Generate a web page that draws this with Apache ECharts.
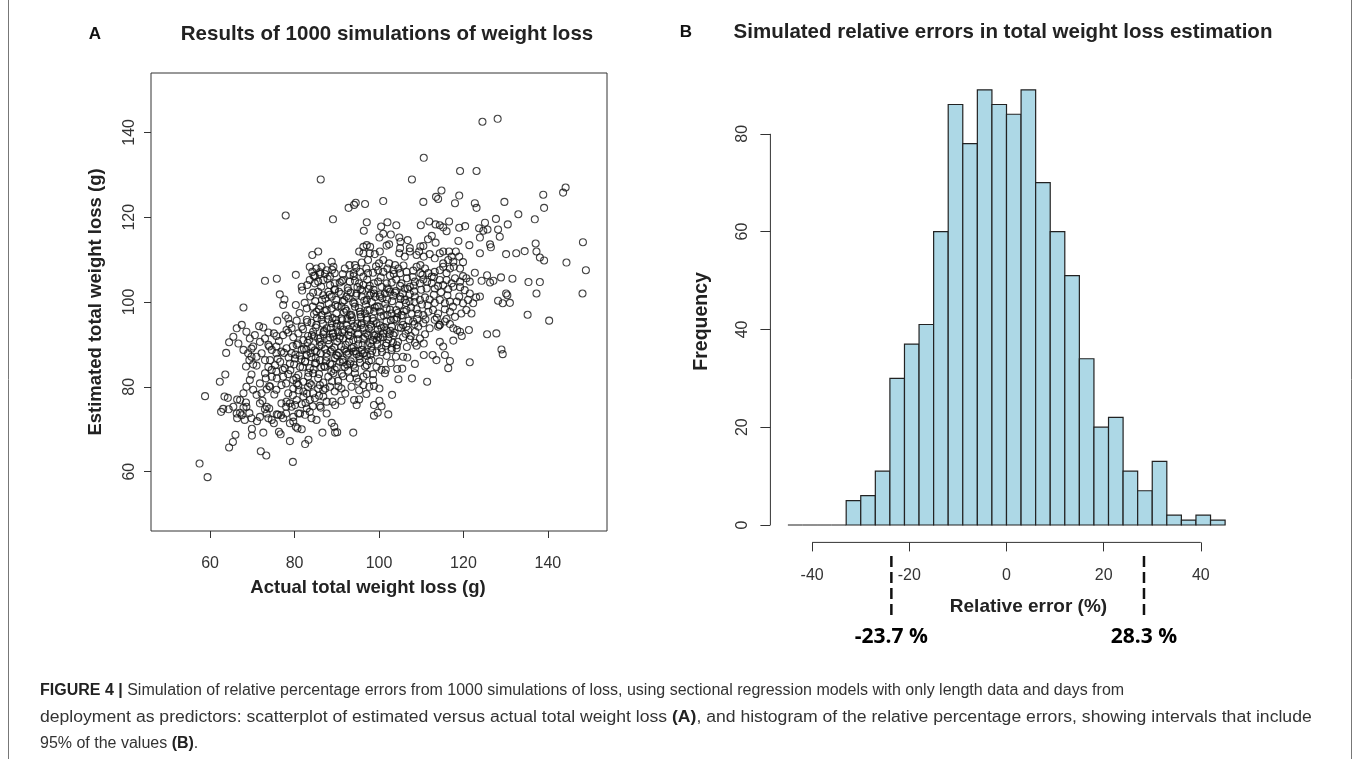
<!DOCTYPE html>
<html><head><meta charset="utf-8">
<script src="https://cdn.jsdelivr.net/npm/echarts@6/dist/echarts.min.js"></script>
<style>html,body{margin:0;padding:0;background:#fff}#c{width:1360px;height:759px}</style>
</head><body><div id="c"></div><script>
// ---------- Panel A data: (actual, estimated) total weight loss, g ----------
const simUpper = [[124.5,142.5],[128.1,143.2],[110.6,134.0],[86.2,128.9],[107.8,128.9],[119.2,130.9],[123.1,130.9],[77.9,120.4],[89.1,119.5],[92.8,122.2],[94.1,122.9],[94.5,123.4],[96.7,123.1],[101.0,123.8],[110.5,123.6],[113.5,124.8],[114.0,124.3],[114.8,126.3],[118.0,123.3],[119.0,125.1],[122.7,123.3],[123.1,122.2],[129.7,123.6],[133.0,120.7],[136.9,119.5],[138.9,125.3],[139.1,122.2],[143.6,125.8],[144.2,127.0],[148.3,114.1],[97.1,118.8],[96.4,116.8],[100.5,117.8],[102.0,118.8],[104.1,118.1],[100.1,115.2],[101.0,116.1],[102.8,115.9],[101.8,113.3],[102.4,113.6],[104.8,115.2],[105.1,114.2],[106.8,114.6],[105.0,112.7],[107.3,112.7],[109.9,118.1],[111.9,119.0],[113.4,118.3],[114.4,118.1],[115.2,117.6],[116.0,116.7],[116.6,119.0],[112.5,115.6],[111.6,114.8],[113.4,114.0],[110.5,113.2],[118.8,114.4],[119.0,117.5],[120.4,117.9],[121.4,113.4],[123.7,117.4],[124.7,116.8],[125.1,118.7],[125.7,117.1],[123.9,115.2],[127.7,119.6],[128.2,117.1],[128.6,115.4],[130.5,118.3],[137.1,113.8],[126.3,113.6],[126.5,112.9],[96.3,113.0],[97.1,113.4],[97.9,113.0],[109.8,113.1]];
const simSparse = [[144.4,109.3],[149.0,107.5],[148.2,102.0],[137.3,111.9],[138.1,110.5],[139.1,109.8],[134.5,112.0],[132.5,111.5],[130.1,111.3],[135.4,104.7],[138.1,104.7],[137.3,102.0],[135.2,97.0],[140.3,95.6],[131.6,105.5],[128.9,105.8],[125.6,106.3],[127.1,105.0],[126.3,104.6],[124.3,105.0],[130.1,102.0],[130.4,101.6],[128.2,100.3],[129.3,99.7],[131.0,99.8],[127.8,92.6],[125.6,92.4],[129.0,88.8],[129.3,87.7],[121.5,85.8],[123.9,101.3],[123.0,101.1],[122.7,106.9],[123.9,111.5],[121.3,93.4],[119.6,92.0],[117.6,90.9],[118.5,93.4],[119.2,93.0],[116.4,84.4],[116.8,86.1],[115.6,87.5],[115.2,89.5],[114.4,90.6],[113.6,86.3],[112.7,87.5],[110.6,87.5],[111.4,81.2],[107.8,82.0],[104.6,81.8],[108.5,85.4],[105.5,84.3],[104.3,84.2],[103.1,78.1],[102.2,73.5],[100.1,76.7],[100.6,75.4],[98.8,75.7],[99.7,73.9],[98.8,73.2],[100.1,79.6],[98.8,80.2],[93.9,69.2],[89.6,69.2],[90.1,69.3],[89.4,70.6],[88.8,71.5],[86.6,69.2],[83.3,67.5],[82.5,66.5],[79.6,62.3],[78.9,67.2],[76.3,69.4],[76.7,68.8],[72.6,69.2],[72.0,64.8],[73.3,63.8],[69.9,70.1],[69.9,68.5],[66.0,68.7],[65.4,67.0],[64.5,65.7],[57.5,61.9],[59.4,58.7],[58.8,77.8],[62.3,81.2],[63.6,82.9],[63.8,88.0],[64.5,90.5],[67.9,98.7],[62.6,74.1],[63.1,74.8],[64.4,74.7],[63.4,77.7],[64.2,77.4],[66.4,77.0],[66.4,72.6],[67.1,73.9],[67.9,75.1],[68.5,76.3],[69.3,73.8],[71.1,71.9],[69.8,89.0],[69.8,87.1],[69.3,86.3],[68.5,84.8],[70.2,85.3],[71.0,85.0],[69.8,82.9],[73.0,105.0],[75.8,105.5],[80.3,106.4],[81.7,103.6],[81.8,102.7],[76.5,101.8],[77.6,100.6],[77.3,99.3],[80.3,99.3],[75.9,95.6],[77.9,96.8],[78.5,96.1],[71.6,94.3],[72.6,94.0],[73.8,92.8],[75.1,92.6],[75.7,92.0],[74.0,89.5],[73.2,82.0],[74.0,80.2],[75.8,82.0],[75.2,78.2],[73.4,79.4],[71.8,80.8],[72.4,76.7],[73.0,74.7],[74.0,74.9],[75.8,73.5],[76.8,73.3],[78.0,73.7],[75.1,71.4],[73.8,72.6],[78.9,71.4],[79.7,71.8],[80.3,70.6],[80.7,70.2],[81.7,70.0],[78.0,75.3],[78.9,76.1],[80.1,75.7],[80.9,73.7],[84.0,72.6],[86.2,75.1],[87.6,73.7],[86.8,77.7],[89.0,76.5],[91.1,76.7],[89.6,75.7],[94.1,76.9],[94.7,75.7],[95.3,77.0],[96.3,80.4],[97.7,80.0],[93.1,82.0],[94.7,82.0],[96.3,82.4],[98.6,83.0],[101.4,83.2],[101.6,84.0],[104.0,87.1],[104.2,89.8],[105.7,87.1],[106.7,86.9],[109.7,91.4],[110.6,90.2],[108.9,89.7],[114.0,94.2],[114.3,94.6],[80.5,80.8],[83.6,80.8],[84.0,80.4],[86.0,80.4],[82.9,78.4],[82.1,77.7]];
const simCoreTop = [[84.2,111.1],[85.6,111.9],[95.3,111.9],[96.3,111.5],[97.8,111.5],[99.0,111.3],[100.2,111.9],[104.8,111.5],[106.1,110.7],[107.3,111.9],[108.9,111.1],[109.5,111.9],[110.6,110.7],[112.0,111.3],[113.2,110.3],[114.4,111.5],[115.2,111.9],[116.6,111.9],[117.2,110.7],[118.2,111.9],[119.0,110.7],[119.9,109.4],[117.6,109.5],[116.4,109.9],[115.2,109.1],[101.0,109.9],[100.0,109.1],[102.4,109.1],[103.8,108.7],[97.4,109.9],[95.9,109.3],[94.3,108.7],[93.0,108.7],[88.8,109.5],[89.2,108.3],[83.6,108.3],[85.2,107.9],[86.4,108.3],[87.6,107.5],
[84.2,107.1],[84.8,106.1],[86.0,106.6],[87.2,106.6],[88.4,106.0],[89.5,106.8],[91.4,106.6],[93.1,106.4],[94.0,106.8],[95.5,107.1],[96.3,106.0],[97.4,106.8],[98.6,106.9],[99.8,107.5],[101.0,107.1],[102.0,107.9],[103.4,107.5],[104.6,107.9],[105.0,106.8],[106.5,107.1],[108.1,107.4],[108.9,108.3],[109.8,108.7],[110.9,107.9],[111.7,106.8],[112.5,106.0],[113.2,107.1],[114.4,107.5],[115.2,108.3],[116.0,106.8],[116.8,107.9],[117.7,108.3],[119.2,107.9],[119.9,106.1],[120.7,105.6],[121.5,104.8],[119.2,104.8],[118.0,105.6],[117.2,104.4],[116.0,105.2],[114.4,105.2],
[83.6,105.2],[84.8,104.4],[85.6,104.8],[86.8,105.2],[88.4,104.0],[89.5,104.4],[90.7,104.6],[91.5,105.2],[93.1,104.8],[94.3,105.0],[95.3,104.4],[96.3,104.0],[97.8,103.8],[98.8,104.4],[99.8,104.8],[100.6,103.6],[101.8,104.4],[103.0,104.6],[104.1,105.3],[105.3,104.4],[106.1,103.2],[107.3,103.6],[108.5,104.8],[109.7,104.4],[110.5,105.3],[111.3,103.2],[112.5,104.4],[113.2,103.2],[114.0,103.8],[115.2,104.0],[116.4,103.0],[117.6,103.6],[119.2,103.5],[120.3,102.8],[121.5,102.0],
[84.4,102.2],[85.6,102.4],[86.8,101.6],[88.0,102.4],[88.8,101.3],[89.9,100.5],[91.4,100.1],[92.3,101.3],[93.3,102.2],[94.7,102.0],[95.9,101.3],[97.1,100.5],[97.8,101.6],[98.8,102.0],[100.2,101.3],[101.4,102.0],[102.6,102.4],[103.8,102.2],[105.0,101.3],[106.1,100.5],[107.3,101.9],[108.5,101.3],[109.7,100.5],[110.9,101.1],[112.0,100.6],[113.2,99.8],[114.4,100.5],[115.6,99.7],[116.8,100.1],[118.4,100.1],[119.9,99.7],[121.1,100.5],[122.3,99.7]];
const simCoreMid = [[82.9,98.5],[84.3,98.9],[85.2,97.7],[86.4,96.9],[87.6,98.1],[88.8,98.5],[89.9,97.3],[91.1,98.9],[92.3,97.9],[93.1,96.9],[94.3,98.9],[95.5,97.7],[96.7,97.3],[97.8,98.1],[99.0,98.7],[100.2,97.7],[101.8,98.5],[103.0,97.3],[104.1,98.1],[105.3,96.9],[106.5,98.1],[107.7,97.3],[108.9,98.3],[110.5,96.9],[111.7,97.7],[112.8,98.1],[114.0,97.3],[115.6,98.3],[116.8,97.7],[118.0,96.5],[119.5,97.3],[120.7,98.1],[121.9,97.3],
[78.1,93.4],[79.3,93.8],[80.5,95.6],[81.7,94.2],[82.9,95.8],[84.0,95.1],[85.2,94.6],[86.4,95.8],[87.6,93.8],[88.8,95.0],[89.9,94.2],[91.1,96.1],[92.3,94.6],[93.5,95.6],[94.7,93.8],[95.9,95.0],[97.1,95.8],[98.2,94.2],[99.4,95.0],[100.6,93.8],[101.8,95.4],[103.0,94.2],[104.1,95.8],[105.7,94.6],[106.9,93.4],[108.1,95.4],[109.3,94.2],[110.5,95.0],[112.0,93.8],[113.2,95.8],[114.4,94.6],[115.6,95.4],[116.8,94.8],[117.6,93.8],
[77.3,92.2],[78.5,92.8],[79.7,91.7],[80.9,92.6],[82.1,91.0],[83.2,92.0],[84.4,93.0],[85.6,91.4],[86.8,92.4],[88.0,91.0],[89.2,91.8],[90.3,93.0],[91.5,91.4],[92.7,92.2],[93.9,91.0],[95.1,92.6],[96.3,91.4],[97.4,92.2],[98.6,91.0],[99.8,91.8],[101.0,92.6],[102.2,91.2],[103.4,92.2],[104.5,90.6],[105.7,91.7],[107.3,91.2],[108.5,90.4],
[75.7,89.5],[76.9,88.3],[78.1,89.1],[79.3,87.9],[80.5,89.9],[81.7,88.7],[82.9,87.5],[84.0,89.3],[85.2,88.3],[86.4,89.9],[87.6,87.9],[88.8,88.8],[89.9,87.5],[91.1,89.5],[92.3,88.3],[93.5,89.1],[94.7,87.7],[95.9,88.7],[97.1,87.3],[98.2,89.5],[99.4,88.1],[100.6,89.1],[101.8,87.3],[103.0,88.7]];
const simCoreLow = [[74.2,86.3],[75.4,85.1],[76.6,85.9],[77.7,84.4],[78.9,85.5],[80.1,86.7],[81.3,84.7],[82.5,85.9],[83.6,84.4],[84.8,85.5],[86.0,86.3],[87.2,84.7],[88.4,85.5],[89.5,84.1],[90.7,85.9],[91.9,84.7],[93.1,85.5],[94.3,84.4],[95.5,85.7],[97.1,85.1],[98.2,86.3],[99.4,84.7],[100.6,84.0],
[73.0,83.2],[74.6,82.4],[75.7,83.6],[77.3,82.4],[78.5,83.0],[79.7,81.6],[80.9,82.8],[82.1,81.2],[83.2,82.4],[84.4,83.2],[85.6,82.0],[86.8,81.0],[88.0,82.4],[89.2,83.2],[90.3,81.4],[91.5,82.5],[92.7,83.8],[94.3,83.2],[95.1,81.2],[97.1,83.0],
[74.2,80.0],[75.7,79.3],[76.9,80.4],[78.5,78.5],[79.7,79.6],[80.9,80.4],[82.1,78.9],[83.2,80.0],[84.4,78.5],[85.6,79.6],[86.8,79.2],[88.4,80.0],[89.5,78.9],[91.1,79.6],
[71.8,76.1],[73.4,75.3],[76.9,76.1],[78.1,76.5],[79.3,75.3],[80.5,76.9],[81.7,75.9],[82.9,74.9],[83.6,76.9],[84.8,77.3],[86.0,75.5],[87.6,76.5],
[71.8,72.9],[73.4,73.7],[74.6,72.2],[76.1,73.4],[77.3,72.6],[79.7,72.9],[81.3,73.7],[82.5,73.4],[83.6,74.1],[85.2,72.2],
[66.3,93.8],[67.5,94.6],[68.6,93.0],[69.4,91.4],[70.6,92.2],[71.8,90.6],[73.0,91.4],[73.8,89.9],[74.6,88.7],[75.7,87.9],[65.5,91.8],[66.7,90.2],[67.9,88.7],[69.0,87.9],[70.2,89.5],[71.0,87.1],[72.2,87.9],[73.0,86.3],[73.8,84.7],[74.6,84.0],[69.4,81.6],[68.6,80.0],[70.2,79.3],[71.0,78.1],[72.2,78.5],[67.9,78.5],[67.1,76.9],[68.6,75.3],[65.5,75.3],[66.3,73.7],[67.5,73.3],[69.8,72.6],[68.2,72.2]];
const simCoreDense = [[84.9,100.2],[86.1,99.1],[87.3,100.8],[88.1,99.6],[89.4,102.9],[90.2,99.0],[91.0,101.9],[91.8,100.4],[92.6,103.3],[93.9,99.9],[94.6,101.5],[95.2,98.6],[96.0,102.7],[96.9,99.4],[97.5,103.1],[98.3,100.0],[99.1,101.2],[99.9,98.9],[100.8,100.9],[101.5,99.6],[102.3,103.0],[103.1,100.2],[104.0,102.6],[104.8,99.3],[105.6,102.0],[106.4,99.8],[107.2,100.1],
[85.3,96.2],[86.7,94.9],[87.9,96.8],[88.6,93.9],[89.8,95.8],[90.9,94.4],[91.7,97.6],[92.9,93.6],[93.6,96.4],[94.9,94.9],[95.6,97.1],[96.4,93.9],[97.2,96.3],[98.0,94.7],[98.9,97.8],[99.7,93.5],[100.4,96.6],[101.2,94.1],[102.0,97.0],[102.7,93.2],[103.6,95.9],[104.4,97.4],[105.2,93.9],
[83.1,90.4],[84.6,91.9],[85.9,89.6],[86.9,92.9],[88.2,90.1],[89.0,92.5],[90.1,90.7],[91.3,92.8],[92.1,89.9],[93.2,92.0],[94.0,89.4],[95.0,91.2],[96.1,89.8],[97.0,92.6],[97.9,90.3],[98.8,92.1],[99.6,90.0],[100.3,91.6],[101.6,89.7],[102.5,92.4],[103.3,90.4],
[80.2,87.6],[81.6,86.5],[82.8,88.8],[84.0,87.0],[85.1,85.6],[86.2,87.9],[87.4,86.1],[88.5,88.3],[89.6,86.8],[90.5,88.0],[91.4,86.4],[92.4,87.6],[93.3,86.0],[94.5,88.4],[95.4,86.6],[96.6,88.0],[97.6,86.1],
[79.0,83.9],[80.4,82.1],[81.9,84.6],[83.3,83.3],[84.5,84.1],[85.8,83.0],[87.0,84.9],[88.7,83.6],[90.0,84.6],[91.2,83.1],[92.5,85.2],
[86.0,107.0],[88.9,107.6],[91.9,107.9],[94.6,108.0],[97.0,107.9],[99.3,108.4],[102.6,106.2],[105.8,108.6],[108.0,105.9],[110.3,106.4],
[108.3,102.5],[110.0,102.9],[111.5,99.2],[113.0,101.7],[114.7,102.3],[116.2,101.6],[117.5,98.9],[119.0,101.3],[111.0,95.9],[113.7,96.3],[116.0,96.0],[107.0,95.6],[109.0,96.0],[106.3,92.5],[108.6,93.0],[110.9,92.4],[104.2,89.1],[106.6,89.4],[100.1,86.0],[102.8,85.6]];
const simCoreExtra = [[81.2,97.4],[82.4,99.8],[83.7,101.3],[84.6,97.1],[85.8,98.3],[86.5,100.5],[87.1,97.9],[88.3,101.7],[89.0,96.2],[89.7,99.3],[90.5,102.4],[91.3,95.7],[92.0,98.4],[92.8,100.9],[93.4,97.0],[94.2,99.6],[94.9,103.5],[95.7,96.5],[96.5,100.3],[97.3,98.1],[98.1,102.0],[98.7,95.5],[99.5,99.0],[100.3,101.8],[101.1,96.8],[101.9,100.6],[102.6,98.2],[103.4,101.5],[104.3,96.3],[105.1,100.7],[105.9,97.8],[106.8,103.1],[107.6,98.7],[108.4,100.0],[109.3,97.2],[110.2,99.4],
[82.0,93.6],[83.0,95.3],[84.1,92.2],[85.0,94.0],[86.1,91.5],[87.0,93.2],[88.0,95.9],[89.1,92.7],[90.0,94.9],[90.8,91.9],[91.6,93.5],[92.5,96.0],[93.3,92.9],[94.1,94.3],[95.0,92.4],[95.8,94.6],[96.7,91.8],[97.6,93.7],[98.5,96.1],[99.3,92.3],[100.2,94.5],[101.0,91.7],[101.8,93.3],[102.8,95.7],[103.7,92.7],[104.7,94.0],[105.6,96.8],[106.5,94.2],[107.5,92.0],[108.4,94.8],
[80.8,90.2],[82.2,89.0],[83.5,91.1],[84.8,88.6],[86.0,90.6],[87.2,88.9],[88.4,91.6],[89.4,89.3],[90.6,91.4],[91.8,88.8],[92.9,90.6],[94.0,88.3],[95.1,90.0],[96.2,87.8],[97.3,89.8],[98.4,88.5],[99.5,91.1],[100.7,88.2],[101.8,90.3],[103.0,89.2],
[78.6,86.9],[79.9,85.3],[81.2,87.4],[82.5,86.0],[83.8,88.0],[85.0,86.8],[86.3,84.6],[87.6,87.1],[88.9,85.3],[90.2,87.3],[91.5,85.8],[92.8,87.9],[94.0,85.2],[95.3,87.2],[96.7,84.8],[98.0,87.6],
[83.0,104.0],[84.5,106.2],[86.3,103.6],[87.8,105.5],[89.6,103.0],[91.2,104.9],[92.7,102.7],[94.0,106.1],[95.6,103.0],[97.2,105.3],[98.7,102.9],[100.4,105.8],[101.9,103.2],[103.5,106.6],[105.0,103.8],[106.6,105.6],[108.2,103.9],[109.8,106.8],[111.4,104.8],[113.0,105.9],
[76.3,90.8],[77.5,88.0],[78.8,94.8],[79.6,89.6],[76.0,86.6],[77.2,84.0],[78.0,80.8],[79.6,78.0],[81.0,79.2],[82.6,76.2],[84.3,75.4],[85.8,77.9],[87.3,79.6],[88.9,81.3],[90.4,80.1],[92.0,78.4],[93.5,80.0],[95.3,79.2],[97.0,78.3],[98.6,81.6]];
const ticksA = [60, 80, 100, 120, 140];

// ---------- Panel B data: histogram of relative error (%) ----------
const binEdges = [-45,-42,-39,-36,-33,-30,-27,-24,-21,-18,-15,-12,-9,-6,-3,0,3,6,9,12,15,18,21,24,27,30,33,36,39,42,45];
const binCounts = [0,0,0,0,5,6,11,30,37,41,60,86,78,89,86,84,89,70,60,51,34,20,22,11,7,13,2,1,2,1];
const ticksBx = [-40, -20, 0, 20, 40];
const ticksBy = [0, 20, 40, 60, 80];
const cutoffs = [-23.7, 28.3];

const FONT = 'Liberation Sans, Arial, Helvetica, sans-serif';
const allPts = simUpper.concat(simSparse, simCoreTop, simCoreMid, simCoreLow, simCoreDense, simCoreExtra);
const histData = binCounts.map((c, i) => [binEdges[i], binEdges[i + 1], c]);
const xLo = binEdges[0], xHi = binEdges[binEdges.length - 1];
const xPad = (xHi - xLo) * 0.04;
const yMaxC = Math.max.apply(null, binCounts);
const yPad = yMaxC * 0.04;

const chart = echarts.init(document.getElementById('c'), null, {renderer: 'canvas'});
const axisTxt = {color: '#333', fontSize: 16, fontFamily: FONT};
const nameTxt = {color: '#222', fontWeight: 'bold', fontFamily: FONT};
const capRich = {b: {fontWeight: 'bold', fontSize: 16, fontFamily: FONT, fill: '#222'}};

chart.setOption({
  animation: false,
  backgroundColor: '#fff',
  grid: [
    {left: 151, top: 73, width: 456, height: 458, show: true, borderColor: '#333', borderWidth: 1, backgroundColor: 'transparent'},
    {left: 770.4, top: 72.4, width: 472.2, height: 470},
    {left: 770.4, top: 551, width: 472.2, height: 64}
  ],
  xAxis: [
    {gridIndex: 0, type: 'value', min: 46, max: 154, splitLine: {show: false}, axisLine: {show: false, onZero: false},
     axisTick: {customValues: ticksA, length: 7, lineStyle: {color: '#333'}},
     axisLabel: Object.assign({customValues: ticksA, margin: 25}, axisTxt),
     name: 'Actual total weight loss (g)', nameLocation: 'middle', nameGap: 47,
     nameTextStyle: Object.assign({fontSize: 18.5, padding: [0, 22, 0, 0]}, nameTxt)},
    {gridIndex: 1, type: 'value', min: xLo - xPad, max: xHi + xPad, splitLine: {show: false}, axisLine: {show: false, onZero: false},
     axisTick: {customValues: ticksBx, length: 9, lineStyle: {color: '#333'}},
     axisLabel: Object.assign({customValues: ticksBx, margin: 25}, axisTxt),
     name: 'Relative error (%)', nameLocation: 'middle', nameGap: 55,
     nameTextStyle: Object.assign({fontSize: 19, padding: [0, 0, 0, 44]}, nameTxt)},
    {gridIndex: 2, type: 'value', min: xLo - xPad, max: xHi + xPad, show: false}
  ],
  yAxis: [
    {gridIndex: 0, type: 'value', min: 46, max: 154, splitLine: {show: false}, axisLine: {show: false, onZero: false},
     axisTick: {customValues: ticksA, length: 7, lineStyle: {color: '#333'}},
     axisLabel: Object.assign({customValues: ticksA, margin: 13, rotate: 90}, axisTxt),
     name: 'Estimated total weight loss (g)', nameLocation: 'middle', nameGap: 46,
     nameTextStyle: Object.assign({fontSize: 18.5}, nameTxt)},
    {gridIndex: 1, type: 'value', min: -yPad, max: yMaxC + yPad, splitLine: {show: false}, axisLine: {show: false, onZero: false},
     axisTick: {customValues: ticksBy, length: 10, lineStyle: {color: '#333'}},
     axisLabel: Object.assign({customValues: ticksBy, margin: 20, rotate: 90}, axisTxt),
     name: 'Frequency', nameLocation: 'middle', nameGap: 59,
     nameTextStyle: Object.assign({fontSize: 19.5, padding: [0, 28, 0, 0]}, nameTxt)},
    {gridIndex: 2, type: 'value', min: 0, max: 1, show: false}
  ],
  series: [
    {type: 'scatter', xAxisIndex: 0, yAxisIndex: 0, data: allPts, symbol: 'circle', symbolSize: 7,
     itemStyle: {color: 'rgba(0,0,0,0)', borderColor: '#141414', borderWidth: 1.1}, silent: true},
    {type: 'custom', xAxisIndex: 1, yAxisIndex: 1, data: histData, encode: {x: [0, 1], y: 2},
     renderItem: function (params, api) {
       const p0 = api.coord([api.value(0), 0]);
       const p1 = api.coord([api.value(1), api.value(2)]);
       return {type: 'rect', shape: {x: p0[0], y: p1[1], width: p1[0] - p0[0], height: p0[1] - p1[1]},
               style: {fill: '#ADD8E6', stroke: '#222', lineWidth: 1.2}};
     }, silent: true},
    // R-style axis lines spanning the tick range only
    {type: 'line', xAxisIndex: 1, yAxisIndex: 1, clip: false, symbol: 'none', silent: true,
     data: [[ticksBx[0], -yPad], [ticksBx[ticksBx.length - 1], -yPad]], lineStyle: {color: '#333', width: 1}},
    {type: 'line', xAxisIndex: 1, yAxisIndex: 1, clip: false, symbol: 'none', silent: true,
     data: [[xLo - xPad, ticksBy[0]], [xLo - xPad, ticksBy[ticksBy.length - 1]]], lineStyle: {color: '#333', width: 1}}
  ].concat(cutoffs.map(v => ({
    type: 'line', xAxisIndex: 2, yAxisIndex: 2, clip: false, symbol: 'none', silent: true,
    data: [[v, 0], [v, 1]], lineStyle: {color: '#111', width: 2.5, type: [11, 5]}
  }))).concat([{
    type: 'scatter', xAxisIndex: 2, yAxisIndex: 2, clip: false, silent: true, symbolSize: 1,
    itemStyle: {color: 'rgba(0,0,0,0)', opacity: 1},
    data: cutoffs.map(v => [v, 0]),
    label: {show: true, position: 'bottom', distance: 11, formatter: p => p.value[0].toFixed(1) + ' %',
            fontFamily: 'Open Sans, Liberation Sans, sans-serif', fontWeight: 'bold', fontSize: 21, color: '#000', opacity: 1}
  }]),
  graphic: [
    {type: 'line', shape: {x1: 8.5, y1: 0, x2: 8.5, y2: 759}, style: {stroke: '#777', lineWidth: 1}},
    {type: 'line', shape: {x1: 1351.5, y1: 0, x2: 1351.5, y2: 759}, style: {stroke: '#777', lineWidth: 1}},
    {type: 'text', x: 95, y: 34, style: {text: 'A', font: 'bold 17px ' + FONT, fill: '#111', align: 'center', verticalAlign: 'middle'}},
    {type: 'text', x: 387, y: 34, style: {text: 'Results of 1000 simulations of weight loss', font: 'bold 20.5px ' + FONT, fill: '#222', align: 'center', verticalAlign: 'middle'}},
    {type: 'text', x: 686, y: 32, style: {text: 'B', font: 'bold 17px ' + FONT, fill: '#111', align: 'center', verticalAlign: 'middle'}},
    {type: 'text', x: 1003, y: 32, style: {text: 'Simulated relative errors in total weight loss estimation', font: 'bold 20.5px ' + FONT, fill: '#222', align: 'center', verticalAlign: 'middle'}},
    {type: 'text', x: 40, y: 691, style: {text: '{b|FIGURE 4 |} Simulation of relative percentage errors from 1000 simulations of loss, using sectional regression models with only length data and days from', font: '16px ' + FONT, fill: '#333', verticalAlign: 'middle', rich: capRich}},
    {type: 'text', x: 40, y: 718, scaleX: 1.1, style: {text: 'deployment as predictors: scatterplot of estimated versus actual total weight loss {b|(A)}, and histogram of the relative percentage errors, showing intervals that include', font: '16px ' + FONT, fill: '#333', verticalAlign: 'middle', rich: capRich}},
    {type: 'text', x: 40, y: 744, style: {text: '95% of the values {b|(B)}.', font: '16px ' + FONT, fill: '#333', verticalAlign: 'middle', rich: capRich}}
  ]
});
</script></body></html>
